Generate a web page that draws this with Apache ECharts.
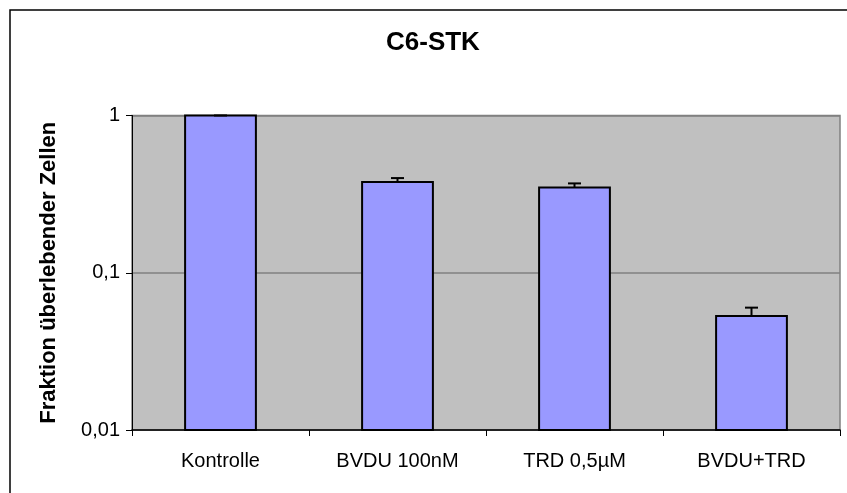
<!DOCTYPE html>
<html>
<head>
<meta charset="utf-8">
<script src="https://cdn.jsdelivr.net/npm/echarts@6/dist/echarts.min.js"></script>
<style>
html,body{margin:0;padding:0;background:#fff;}
#chart{width:847px;height:493px;}
</style>
</head>
<body>
<div id="chart"></div>
<script>
const categories = ['Kontrolle', 'BVDU 100nM', 'TRD 0,5µM', 'BVDU+TRD'];
const values = [1.0, 0.377, 0.348, 0.053];
const errorTop = [1.0, 0.40, 0.37, 0.060];
const yTickValues = [0.01, 0.1, 1];
const yTickLabels = ['0,01', '0,1', '1'];
const chartTitle = 'C6-STK';
const yAxisTitle = 'Fraktion überlebender Zellen';

const chart = echarts.init(document.getElementById('chart'), null, {renderer: 'canvas'});
const FONT = 'Liberation Sans, Arial, sans-serif';
const yMin = yTickValues[0];

const option = {
  animation: false,
  backgroundColor: '#ffffff',
  title: {
    text: chartTitle,
    left: 386,
    top: 30,
    padding: 0,
    textStyle: {fontFamily: FONT, fontSize: 26, fontWeight: 'bold', color: '#000'}
  },
  graphic: [{
    type: 'rect',
    shape: {x: 10, y: 10, width: 900, height: 600},
    style: {fill: 'none', stroke: '#000', lineWidth: 1.5},
    silent: true,
    z: 100
  }],
  grid: {
    left: 132, right: 7, top: 115.5, bottom: 63,
    show: true, backgroundColor: '#C0C0C0', borderColor: '#808080', borderWidth: 1.5
  },
  xAxis: {
    type: 'category',
    data: categories,
    boundaryGap: true,
    axisLine: {show: true, lineStyle: {color: '#000', width: 1.5}},
    axisTick: {show: true, alignWithLabel: false, length: 6, lineStyle: {color: '#000', width: 1}},
    axisLabel: {fontFamily: FONT, fontSize: 20, color: '#000', margin: 21, interval: 0},
    splitLine: {show: false},
    z: 10
  },
  yAxis: {
    type: 'log',
    logBase: 10,
    min: yTickValues[0],
    max: yTickValues[yTickValues.length - 1],
    name: yAxisTitle,
    nameLocation: 'middle',
    nameRotate: 90,
    nameGap: 72,
    nameTextStyle: {fontFamily: FONT, fontSize: 22, fontWeight: 'bold', color: '#000'},
    axisLine: {show: true, lineStyle: {color: '#000', width: 1}},
    axisTick: {show: true, length: 6, lineStyle: {color: '#000'}},
    minorTick: {show: false},
    axisLabel: {
      fontFamily: FONT, fontSize: 20, color: '#000', margin: 12,
      formatter: function (v) {
        const i = yTickValues.findIndex(t => Math.abs(Math.log10(t) - Math.log10(v)) < 1e-6);
        return i >= 0 ? yTickLabels[i] : '';
      }
    },
    splitLine: {show: true, lineStyle: {color: '#808080', width: 1.5}}
  },
  series: [
    {
      type: 'custom',
      name: 'bars',
      data: categories.map((c, i) => [i, values[i]]),
      encode: {x: 0, y: 1},
      renderItem: function (params, api) {
        const i = api.value(0);
        const top = api.coord([i, api.value(1)]);
        const base = api.coord([i, yMin]);
        const w = api.size([1, 0])[0] * 0.4;
        return {
          type: 'rect',
          shape: {x: top[0] - w / 2, y: top[1], width: w, height: base[1] - top[1]},
          style: {fill: '#9999FF', stroke: '#000', lineWidth: 2}
        };
      },
      z: 2
    },
    {
      type: 'custom',
      name: 'errors',
      data: categories.map((c, i) => [i, values[i], errorTop[i]]),
      encode: {x: 0, y: [1, 2]},
      renderItem: function (params, api) {
        const i = api.value(0);
        const p0 = api.coord([i, api.value(1)]);
        const p1 = api.coord([i, api.value(2)]);
        const half = 6.5;
        const style = {stroke: '#000', lineWidth: 2};
        return {
          type: 'group',
          children: [
            {type: 'line', shape: {x1: p0[0], y1: p0[1], x2: p1[0], y2: p1[1]}, style: style},
            {type: 'line', shape: {x1: p1[0] - half, y1: p1[1], x2: p1[0] + half, y2: p1[1]}, style: style}
          ]
        };
      },
      z: 3
    }
  ]
};
chart.setOption(option);
</script>
</body>
</html>
